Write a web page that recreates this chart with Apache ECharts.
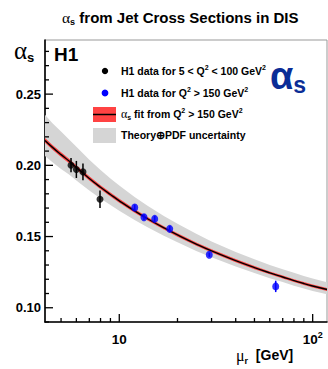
<!DOCTYPE html>
<html><head><meta charset="utf-8">
<script src="https://cdn.jsdelivr.net/npm/echarts/dist/echarts.min.js"></script>
<style>html,body{margin:0;padding:0;background:#fff}#c{width:328px;height:369px}</style>
</head><body><div id="c"></div>
<script>
// ---- data ----
const fitMu  = [4.13, 4.5, 5, 5.5, 6, 7, 8, 9, 10, 12, 14, 17, 20, 25, 30, 40, 50, 60, 70, 80, 90, 100, 118.6];
const fitAs  = [0.2175, 0.2128, 0.2075, 0.2030, 0.1985, 0.1908, 0.1846, 0.1795, 0.1751, 0.1680, 0.1625, 0.1561, 0.1511, 0.1447, 0.1399, 0.1331, 0.1282, 0.1245, 0.1216, 0.1191, 0.1170, 0.1153, 0.1128];
const fitErr = [0.0017, 0.0017, 0.0016, 0.0016, 0.0015, 0.0015, 0.0014, 0.0014, 0.0014, 0.0013, 0.0013, 0.0012, 0.0012, 0.0012, 0.0011, 0.0011, 0.0011, 0.0010, 0.0010, 0.0010, 0.0010, 0.0010, 0.0010];
const bandUp = [0.2356, 0.2298, 0.2237, 0.2182, 0.2130, 0.2040, 0.1968, 0.1908, 0.1858, 0.1777, 0.1716, 0.1645, 0.1590, 0.1519, 0.1466, 0.1392, 0.1340, 0.1301, 0.1271, 0.1245, 0.1223, 0.1205, 0.1179];
const bandLo = [0.2066, 0.2024, 0.1975, 0.1935, 0.1894, 0.1824, 0.1768, 0.1721, 0.1681, 0.1616, 0.1565, 0.1506, 0.1460, 0.1399, 0.1354, 0.1290, 0.1244, 0.1208, 0.1180, 0.1155, 0.1135, 0.1118, 0.1094];

const lowQ2Mu  = [5.63, 6.0, 6.49, 7.95];
const lowQ2As  = [0.2001, 0.1971, 0.1954, 0.1762];
const lowQ2Err = [0.0050, 0.0060, 0.0058, 0.0062];

const highQ2Mu  = [12.02, 13.42, 15.25, 18.23, 29.2, 64.4];
const highQ2As  = [0.1704, 0.1636, 0.1624, 0.1554, 0.1372, 0.1150];
const highQ2Err = [0.0020, 0.0020, 0.0020, 0.0020, 0.0015, 0.0040];

const xMajorTicks = [10, 100];
const xMinorTicks = [5, 6, 7, 8, 9, 20, 30, 40, 50, 60, 70, 80, 90];
const yMajorTicks = [0.10, 0.15, 0.20, 0.25];
const yMinorTicks = [0.09, 0.11, 0.12, 0.13, 0.14, 0.16, 0.17, 0.18, 0.19, 0.21, 0.22, 0.23, 0.24, 0.26, 0.27, 0.28];

const X_MIN = 4.13, X_MAX = 118.6, Y_MIN = 0.09, Y_MAX = 0.288;

// ---- chart ----
const SANS = '"Liberation Sans", Arial, sans-serif';
const SERIF = '"Liberation Serif", "Times New Roman", serif';
const chart = echarts.init(document.getElementById('c'), null, {renderer: 'svg'});

function bandSeries(getUp, getLo, color, z) {
  return {
    type: 'custom', z: z, silent: true, data: [[fitMu[0], fitAs[0]]],
    renderItem: function (params, api) {
      const pts = [];
      for (let i = 0; i < fitMu.length; i++) pts.push(api.coord([fitMu[i], getUp(i)]));
      for (let i = fitMu.length - 1; i >= 0; i--) pts.push(api.coord([fitMu[i], getLo(i)]));
      return {type: 'polygon', shape: {points: pts}, style: {fill: color, stroke: null}};
    }
  };
}
function xTickSeries(vals, len) {
  return {
    type: 'custom', z: 20, silent: true, data: vals.map(v => [v, Y_MIN]),
    renderItem: function (params, api) {
      const a = api.coord([api.value(0), api.value(1)]);
      return {type: 'line', shape: {x1: a[0], y1: a[1], x2: a[0], y2: a[1] - len}, style: {stroke: '#000', lineWidth: 1.3}};
    }
  };
}
function yTickSeries(vals, len) {
  return {
    type: 'custom', z: 20, silent: true, data: vals.map(v => [X_MIN, v]),
    renderItem: function (params, api) {
      const a = api.coord([api.value(0), api.value(1)]);
      return {type: 'line', shape: {x1: a[0], y1: a[1], x2: a[0] + len, y2: a[1]}, style: {stroke: '#000', lineWidth: 1.3}};
    }
  };
}
function errSeries(mu, as, err, color) {
  return {
    type: 'custom', z: 8, silent: true, data: mu.map((m, i) => [m, as[i], err[i]]),
    renderItem: function (params, api) {
      const x = api.value(0), y = api.value(1), e = api.value(2);
      const a = api.coord([x, y - e]), b = api.coord([x, y + e]);
      return {type: 'line', shape: {x1: a[0], y1: a[1], x2: b[0], y2: b[1]}, style: {stroke: color, lineWidth: 1.5}};
    }
  };
}
const LEG = 10.5;
const legRich = {
  t: {fontFamily: SANS, fontWeight: 'bold', fontSize: LEG, fill: '#000', lineHeight: 14},
  p: {fontFamily: SANS, fontWeight: 'bold', fontSize: 7, fill: '#000', verticalAlign: 'top', lineHeight: 14},
  a: {fontFamily: SERIF, fontSize: 12, fill: '#000', lineHeight: 14},
  s: {fontFamily: SANS, fontWeight: 'bold', fontSize: 7, fill: '#000', verticalAlign: 'bottom', lineHeight: 14}
};

const option = {
  animation: false,
  backgroundColor: '#fff',
  grid: {left: 45, top: 40, width: 282, height: 282, show: true, borderColor: '#999', borderWidth: 1, outerBoundsMode: 'none', containLabel: false},
  xAxis: {
    type: 'log', logBase: 10, min: X_MIN, max: X_MAX,
    axisLine: {show: true, onZero: false, lineStyle: {color: '#000', width: 1.6}},
    axisTick: {show: false}, splitLine: {show: false}, minorTick: {show: false},
    axisLabel: {
      margin: 8, showMinLabel: false, showMaxLabel: false,
      color: '#000', fontFamily: SANS, fontWeight: 'bold', fontSize: 13.5,
      formatter: function (v) {
        if (Math.abs(v - 10) < 1e-6) return '{b|10}';
        if (Math.abs(v - 100) < 1e-4) return '{b|10}{sup|2}';
        return '';
      },
      rich: {
        b: {fontFamily: SANS, fontWeight: 'bold', fontSize: 13.5, color: '#000', lineHeight: 18},
        sup: {fontFamily: SANS, fontWeight: 'bold', fontSize: 9, color: '#000', verticalAlign: 'top', lineHeight: 18}
      }
    }
  },
  yAxis: {
    type: 'value', min: Y_MIN, max: Y_MAX, interval: 0.01,
    axisLine: {show: true, onZero: false, lineStyle: {color: '#000', width: 1.6}},
    axisTick: {show: false}, splitLine: {show: false},
    axisLabel: {
      margin: 4, color: '#000', fontFamily: SANS, fontWeight: 'bold', fontSize: 13,
      showMinLabel: true, showMaxLabel: true,
      formatter: function (v) {
        const k = Math.round(v * 100);
        return (k % 5 === 0 && Math.abs(v * 100 - k) < 1e-6) ? (k / 100).toFixed(2) : '';
      }
    }
  },
  series: [
    bandSeries(i => bandUp[i], i => bandLo[i], '#d5d5d5', 1),
    bandSeries(i => fitAs[i] + fitErr[i], i => fitAs[i] - fitErr[i], '#ff4343', 2),
    {
      type: 'line', z: 3, silent: true, smooth: true, showSymbol: false, symbol: 'none',
      data: fitMu.map((m, i) => [m, fitAs[i]]),
      lineStyle: {color: '#000', width: 1.4}
    },
    errSeries(lowQ2Mu, lowQ2As, lowQ2Err, '#000'),
    errSeries(highQ2Mu, highQ2As, highQ2Err, '#0000ff'),
    {
      type: 'scatter', z: 9, silent: true, symbol: 'circle', symbolSize: 7,
      data: lowQ2Mu.map((m, i) => [m, lowQ2As[i]]),
      itemStyle: {color: '#000'}
    },
    {
      type: 'scatter', z: 9, silent: true, symbol: 'circle', symbolSize: [7, 8],
      data: highQ2Mu.map((m, i) => [m, highQ2As[i]]),
      itemStyle: {color: '#0000ff'}
    },
    xTickSeries(xMajorTicks, 8),
    xTickSeries(xMinorTicks, 4),
    yTickSeries(yMajorTicks, 8),
    yTickSeries(yMinorTicks, 4)
  ],
  graphic: [
    // title
    {type: 'text', left: 62, top: 9, style: {
      text: '{a|α}{s|s}{t| from Jet Cross Sections in DIS}',
      rich: {
        a: {fontFamily: SERIF, fontSize: 15.5, fill: '#000', lineHeight: 18},
        s: {fontFamily: SANS, fontWeight: 'bold', fontSize: 9, fill: '#000', verticalAlign: 'bottom', lineHeight: 18},
        t: {fontFamily: SANS, fontWeight: 'bold', fontSize: 15, fill: '#000', lineHeight: 18}
      }
    }, z: 100},
    // y axis symbol
    {type: 'text', left: 14, top: 38, style: {
      text: '{a|α}{s|s}',
      rich: {
        a: {fontFamily: SERIF, fontSize: 25, fill: '#000', lineHeight: 26},
        s: {fontFamily: SANS, fontWeight: 'bold', fontSize: 13, fill: '#000', verticalAlign: 'bottom', lineHeight: 26}
      }
    }, z: 100},
    // H1 label
    {type: 'text', left: 54, top: 45, style: {text: 'H1', fontFamily: SANS, fontWeight: 'bold', fontSize: 19, fill: '#000'}, z: 100},
    // logo
    {type: 'text', left: 270, top: 57, style: {
      text: '{a|α}{s|s}',
      rich: {
        a: {fontFamily: SANS, fontWeight: 'bold', fontSize: 38, fill: '#0b2d96', lineHeight: 40},
        s: {fontFamily: SANS, fontWeight: 'bold', fontSize: 23, fill: '#0b2d96', verticalAlign: 'bottom', lineHeight: 40}
      }
    }, z: 100},
    // legend
    {type: 'circle', shape: {cx: 105, cy: 71, r: 3.2}, style: {fill: '#000'}, z: 100},
    {type: 'circle', shape: {cx: 105, cy: 93, r: 3.4}, style: {fill: '#0000ff'}, z: 100},
    {type: 'rect', shape: {x: 93, y: 107, width: 23, height: 15}, style: {fill: '#ff4343'}, z: 100},
    {type: 'line', shape: {x1: 93, y1: 114.5, x2: 116, y2: 114.5}, style: {stroke: '#000', lineWidth: 1.5}, z: 101},
    {type: 'rect', shape: {x: 93, y: 128, width: 23, height: 15}, style: {fill: '#d5d5d5'}, z: 100},
    {type: 'text', left: 121, top: 64, style: {text: '{t|H1 data for 5 < Q}{p|2}{t| < 100 GeV}{p|2}', rich: legRich}, z: 100},
    {type: 'text', left: 121, top: 86, style: {text: '{t|H1 data for Q}{p|2}{t| > 150 GeV}{p|2}', rich: legRich}, z: 100},
    {type: 'text', left: 121, top: 107, style: {text: '{a|α}{s|s}{t| fit from Q}{p|2}{t| > 150 GeV}{p|2}', rich: legRich}, z: 100},
    {type: 'text', left: 121, top: 129, style: {text: '{t|Theory⊕PDF uncertainty}', rich: legRich}, z: 100},
    // x axis title
    {type: 'text', left: 236, top: 347, style: {
      text: '{m|μ}{r|r}{t|  [GeV]}',
      rich: {
        m: {fontFamily: SERIF, fontSize: 16, fill: '#000', lineHeight: 18},
        r: {fontFamily: SANS, fontWeight: 'bold', fontSize: 9, fill: '#000', verticalAlign: 'bottom', lineHeight: 20},
        t: {fontFamily: SANS, fontWeight: 'bold', fontSize: 14, fill: '#000', lineHeight: 18}
      }
    }, z: 100}
  ]
};
chart.setOption(option);
</script>
</body></html>
